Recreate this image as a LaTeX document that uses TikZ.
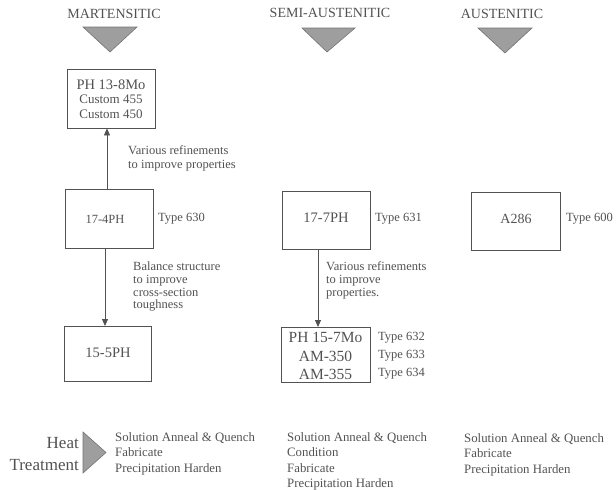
\documentclass[tikz,border=0pt]{standalone}
\usepackage{fontspec}
\setmainfont{Liberation Serif}
\usetikzlibrary{arrows.meta}
\definecolor{ink}{gray}{0.32}
\definecolor{tri}{gray}{0.62}
\definecolor{triedge}{gray}{0.45}
\begin{document}
\begin{tikzpicture}[x=1pt,y=-1pt,
  every node/.style={text=ink, inner sep=0pt},
  head/.style={font=\fontsize{14}{16}\selectfont},
  steel/.style={draw=ink, line width=0.8pt},
  lbl/.style={font=\fontsize{12.5}{14}\selectfont, anchor=west},
  note/.style={font=\fontsize{12.5}{13.5}\selectfont, align=left, anchor=north west},
  grade/.style={font=\fontsize{15}{18.5}\selectfont},
  ht/.style={font=\fontsize{12.8}{15.5}\selectfont, align=left, anchor=north west},
  flow/.style={draw=ink, line width=0.8pt, -{Triangle[length=7pt,width=6pt]}},
  marker/.style={fill=tri, draw=triedge, line width=0.6pt}
]
\useasboundingbox (0,0) rectangle (616,490);

% column headings
\node[head] (hm) at (114,14) {MARTENSITIC};
\node[head] (hs) at (330,13) {SEMI-AUSTENITIC};
\node[head] (ha) at (502,14) {AUSTENITIC};
\draw[marker] (83,27) -- (137,27) -- (110,52) -- cycle;
\draw[marker] (302,28) -- (355,28) -- (327,52) -- cycle;
\draw[marker] (478,28) -- (532,28) -- (505,53) -- cycle;

% martensitic
\node[steel, minimum width=88pt, minimum height=59pt] (ph138) at (111,98.5) {};
\node[grade, font=\fontsize{14.5}{16}\selectfont] (ph138a) at (111,85) {PH 13-8Mo};
\node[font=\fontsize{13}{15}\selectfont] (c455) at (111,99.5) {Custom 455};
\node[font=\fontsize{13}{15}\selectfont] (c450) at (111,114.5) {Custom 450};

\node[steel, minimum width=88pt, minimum height=59pt] (p174) at (109,218.5) {};
\node[font=\fontsize{12.5}{14}\selectfont] (p174t) at (105,219) {17-4PH};
\node[lbl] (t630) at (158,219) {Type 630};

\node[steel, minimum width=87pt, minimum height=55pt] (p155) at (107.5,353.5) {};
\node[grade, font=\fontsize{14.5}{16}\selectfont] (p155t) at (108,353) {15-5PH};

\draw[flow] (107,189) -- (107,128.4);
\draw[flow] (105,248) -- (105,326);

\node[note, font=\fontsize{12.5}{14}\selectfont] (n1) at (128,145) {Various refinements\\to improve properties};
\node[note, font=\fontsize{12.5}{12.7}\selectfont] (n2) at (133,262) {Balance structure\\to improve\\cross-section\\toughness};

% semi-austenitic
\node[steel, minimum width=88pt, minimum height=58pt] (p177) at (326,220) {};
\node[grade, font=\fontsize{14.5}{16}\selectfont] (p177t) at (326,218) {17-7PH};
\node[lbl] (t631) at (375,219) {Type 631};

\node[steel, minimum width=89pt, minimum height=55pt] (pmo) at (325.5,354.5) {};
\node[grade, font=\fontsize{15.5}{18.5}\selectfont, align=center] (pmot) at (325.5,356) {PH 15-7Mo\\AM-350\\AM-355};
\node[lbl] (t632) at (378,338) {Type 632};
\node[lbl] (t633) at (378,356) {Type 633};
\node[lbl] (t634) at (378,374) {Type 634};

\draw[flow] (318,249) -- (318,327);
\node[note, font=\fontsize{12.5}{13}\selectfont] (n3) at (326,261) {Various refinements\\to improve\\properties.};

% austenitic
\node[steel, minimum width=89pt, minimum height=58pt] (a286) at (515.5,221) {};
\node[font=\fontsize{14}{16}\selectfont] (a286t) at (516,219) {A286};
\node[lbl] (t600) at (566,219) {Type 600};

% heat treatment
\node[font=\fontsize{17}{20}\selectfont, anchor=east] (heat) at (79,443) {Heat};
\node[font=\fontsize{17}{20}\selectfont, anchor=east] (treat) at (79,465) {Treatment};
\draw[marker] (83,432) -- (106,452.5) -- (83,473) -- cycle;

\node[ht] (h1) at (115,432) {Solution Anneal \& Quench\\Fabricate\\Precipitation Harden};
\node[ht] (h2) at (287,432) {Solution Anneal \& Quench\\Condition\\Fabricate\\Precipitation Harden};
\node[ht] (h3) at (464,433) {Solution Anneal \& Quench\\Fabricate\\Precipitation Harden};
\end{tikzpicture}
\end{document}
